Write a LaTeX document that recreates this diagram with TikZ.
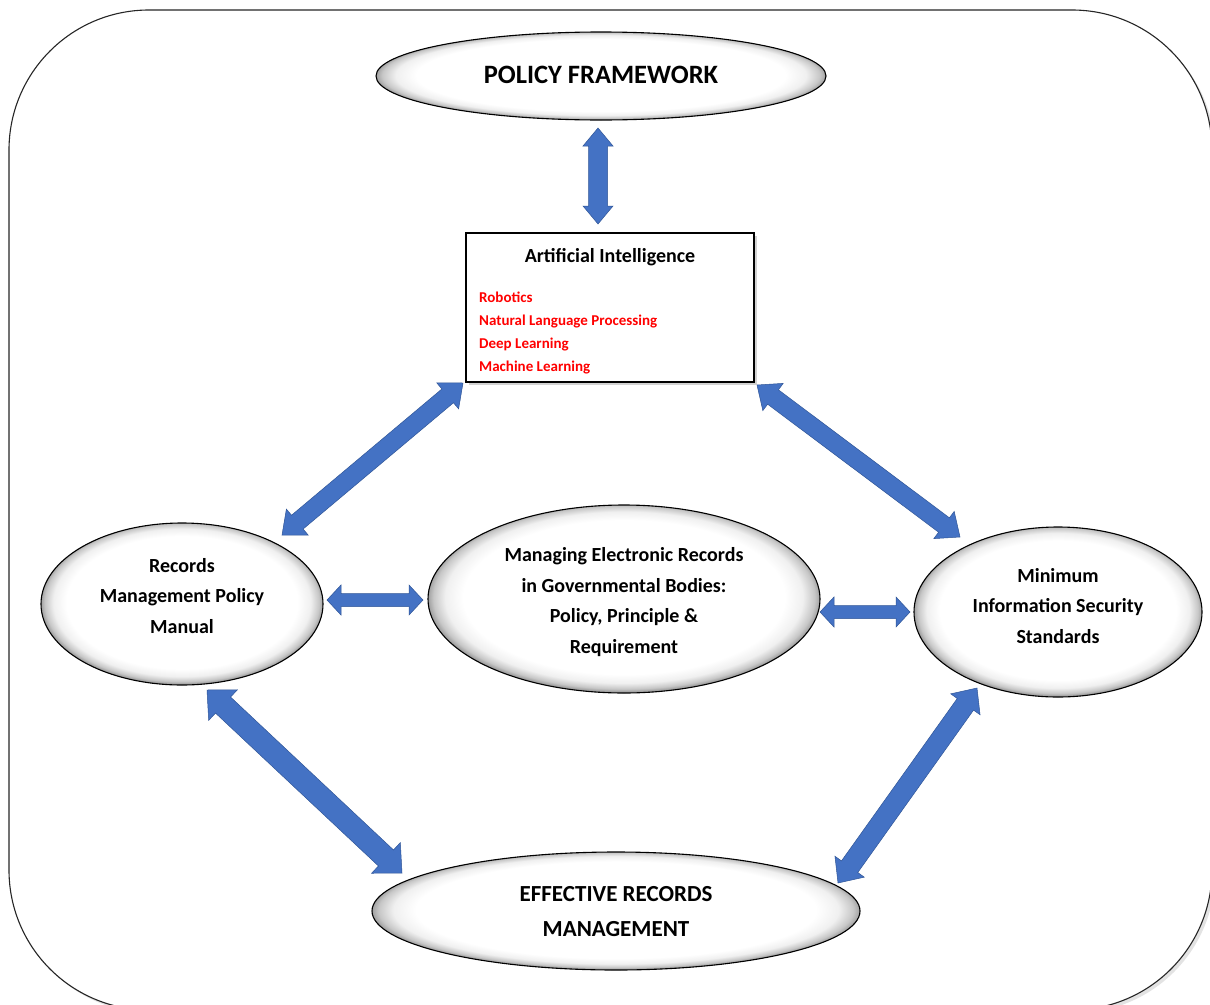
\documentclass[tikz,border=0pt]{standalone}
\usepackage{fontspec}
\setmainfont{Carlito}
\usetikzlibrary{shapes.geometric,calc,shadows}
\definecolor{arrowblue}{HTML}{4472C4}
\definecolor{arrowedge}{HTML}{2F5597}
\definecolor{listred}{HTML}{FF0000}
\pgfdeclareradialshading{bevel}{\pgfpoint{0bp}{0.8bp}}{color(0bp)=(white); color(20.5bp)=(white); color(22.8bp)=(black!6); color(24.3bp)=(black!22); color(25.6bp)=(black!50); color(50bp)=(black!55)}
\newcommand\blockarrow[5]{%
  \filldraw[blockarr]
    (#1) -- ($(#1)!#5!(#2)!#4!90:(#2)$) -- ($(#1)!#5!(#2)!#3!90:(#2)$)
    -- ($(#2)!#5!(#1)!#3!-90:(#1)$) -- ($(#2)!#5!(#1)!#4!-90:(#1)$)
    -- (#2) -- ($(#2)!#5!(#1)!#4!90:(#1)$) -- ($(#2)!#5!(#1)!#3!90:(#1)$)
    -- ($(#1)!#5!(#2)!#3!-90:(#2)$) -- ($(#1)!#5!(#2)!#4!-90:(#2)$) -- cycle;}
\tikzset{
  bubble/.style={ellipse, draw=black, line width=1.1pt, shade, shading=bevel,
    inner sep=0pt},
  btext/.style={inner sep=0pt, align=center},
  blockarr/.style={fill=arrowblue, draw=arrowedge, line width=0.5pt, line join=miter},
  midtext/.style={font=\fontsize{20}{30.5}\selectfont\bfseries},
}
\begin{document}
\begin{tikzpicture}[x=1pt,y=-1pt]
\useasboundingbox (0,0) rectangle (1210,1004);
\clip (0,0) rectangle (1210,1004);
% outer frame
\draw[line width=1.1pt, black!85, fill=white, rounded corners=140pt,
  drop shadow={opacity=0.22, shadow xshift=3pt, shadow yshift=-3pt}]
  (9,10) rectangle (1212,1010);

% nodes
\node[bubble, minimum width=450pt, minimum height=88pt] (pf) at (601,76) {};
\node[btext, font=\fontsize{26.5}{30}\selectfont\bfseries] (pftext) at (601,75) {POLICY FRAMEWORK};

\node[draw=black, line width=1.3pt, fill=white, minimum width=288pt, minimum height=149pt,
  drop shadow={opacity=0.35, shadow xshift=3pt, shadow yshift=-3pt}] (ai) at (610,307.5) {};
\node[anchor=base, inner sep=0pt, font=\fontsize{20}{22}\selectfont\bfseries] (aititle)
  at (610,262.5) {Artificial Intelligence};
\node[anchor=north west, inner sep=0pt, align=left, text=listred,
  font=\fontsize{15}{23}\selectfont\bfseries] (ailist) at (479,291.5)
  {Robotics\\Natural Language Processing\\Deep Learning\\Machine Learning};

\node[bubble, minimum width=282pt, minimum height=162pt] (rm) at (182,604) {};
\node[btext, midtext] (rmtext) at (182,596) {Records\\Management Policy\\Manual};

\node[bubble, minimum width=392pt, minimum height=188pt] (me) at (624,599) {};
\node[btext, midtext] (metext) at (624,602)
  {Managing Electronic Records\\in Governmental Bodies:\\Policy, Principle \&\\Requirement};

\node[bubble, minimum width=288pt, minimum height=170pt] (mi) at (1058,612) {};
\node[btext, midtext] (mitext) at (1058,606) {Minimum\\Information Security\\Standards};

\node[bubble, minimum width=488pt, minimum height=118pt] (er) at (616,911) {};
\node[btext, font=\fontsize{23}{35}\selectfont\bfseries] (ertext) at (616,912)
  {EFFECTIVE RECORDS\\MANAGEMENT};

% arrow end points
\coordinate (a1s) at (598,128);  \coordinate (a1e) at (598,224);
\coordinate (a2s) at (282,535);  \coordinate (a2e) at (463,383);
\coordinate (a3s) at (757,385);  \coordinate (a3e) at (960,537);
\coordinate (a4s) at (327,600);  \coordinate (a4e) at (423,600);
\coordinate (a5s) at (820,612);  \coordinate (a5e) at (910,612);
\coordinate (a6s) at (207,690);  \coordinate (a6e) at (402,873);
\coordinate (a7s) at (977,688);  \coordinate (a7e) at (838,883);

\blockarrow{a1s}{a1e}{9.5pt}{15pt}{18pt}
\blockarrow{a2s}{a2e}{9pt}{17pt}{20pt}
\blockarrow{a3s}{a3e}{9pt}{17pt}{20pt}
\blockarrow{a4s}{a4e}{6.5pt}{15pt}{14pt}
\blockarrow{a5s}{a5e}{6.5pt}{15pt}{14pt}
\blockarrow{a6s}{a6e}{11pt}{21pt}{22pt}
\blockarrow{a7s}{a7e}{10pt}{18pt}{20pt}
\end{tikzpicture}
\end{document}
